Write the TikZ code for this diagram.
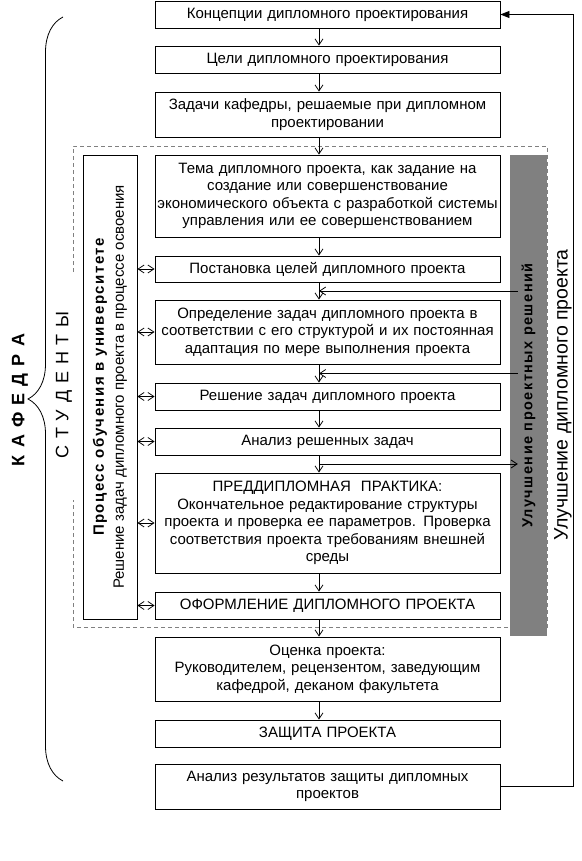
\documentclass[tikz,border=0pt]{standalone}
\usepackage{fontspec}
\setmainfont{Liberation Sans}
\usetikzlibrary{arrows.meta,calc,decorations.pathreplacing}
\tikzset{
  blk/.style={draw,line width=0.8pt,minimum width=345pt,text width=345pt,align=center,inner sep=0pt,font=\fontsize{15}{17.5}\selectfont},
  arr/.style={line width=0.8pt,-{Straight Barb[length=6pt,width=8pt]}},
  darr/.style={line width=0.8pt,{Straight Barb[length=6pt,width=8pt]}-{Straight Barb[length=6pt,width=8pt]}},
}
\begin{document}
\begin{tikzpicture}[x=1pt,y=-1pt]
\useasboundingbox (0,0) rectangle (581,861);
\draw[dashed,gray,line width=0.8pt,dash pattern=on 4pt off 3pt] (73,272) |- (547,146) |- (73,627) -- (73,500);
\node[blk,minimum height=27] (konc) at (327.5,14.5) {Концепции дипломного проектирования};
\node[blk,minimum height=27] (celi) at (327.5,59.5) {Цели дипломного проектирования};
\node[blk,minimum height=45] (zad) at (327.5,114.5) {Задачи кафедры, решаемые при дипломном\\проектировании};
\node[blk,minimum height=82] (tema) at (327.5,196) {Тема дипломного проекта, как задание на\\создание или совершенствование\\экономического объекта с разработкой системы\\управления или ее совершенствованием};
\node[blk,minimum height=26] (postan) at (327.5,269) {Постановка целей дипломного проекта};
\node[blk,minimum height=64] (opred) at (327.5,332) {Определение задач дипломного проекта в\\соответствии с его структурой и их постоянная\\адаптация по мере выполнения проекта};
\node[blk,minimum height=27] (resh) at (327.5,396.5) {Решение задач дипломного проекта};
\node[blk,minimum height=27] (analiz) at (327.5,441.5) {Анализ решенных задач};
\node[blk,minimum height=100] (predd) at (327.5,523) {ПРЕДДИПЛОМНАЯ\ \ ПРАКТИКА:\\Окончательное редактирование структуры\\проекта и проверка ее параметров. Проверка\\соответствия проекта требованиям внешней\\среды};
\node[blk,minimum height=27] (oform) at (327.5,605.5) {ОФОРМЛЕНИЕ ДИПЛОМНОГО ПРОЕКТА};
\node[blk,minimum height=64] (ocenka) at (327.5,669) {Оценка проекта:\\Руководителем, рецензентом, заведующим\\кафедрой, деканом факультета};
\node[blk,minimum height=27] (zasch) at (327.5,733.5) {ЗАЩИТА ПРОЕКТА};
\node[blk,minimum height=45] (anrez) at (327.5,786.5) {Анализ результатов защиты дипломных\\проектов};
\node[draw,line width=0.8pt,rotate=90,minimum width=464,minimum height=54,inner sep=1pt,align=center,font=\fontsize{15}{20}\selectfont] (proc) at (110,387) {{\bfseries\addfontfeature{LetterSpace=10}Процесс обучения в университете}\\Решение задач дипломного проекта в процессе освоения};
\node[fill=gray,rotate=90,minimum width=481,minimum height=37,font=\bfseries\fontsize{14.5}{16}\selectfont\addfontfeature{LetterSpace=10}] (bar) at (528.5,395.5) {Улучшение проектных решений};
\node[rotate=90,font=\fontsize{19.5}{22}\selectfont] (uluch) at (563,395) {Улучшение дипломного проекта};
\node[rotate=90,font=\bfseries\fontsize{18}{20}\selectfont\addfontfeature{LetterSpace=12}] (kaf) at (20,400) {К А Ф Е Д Р А};
\node[rotate=90,font=\fontsize{18}{20}\selectfont\addfontfeature{LetterSpace=10}] (stud) at (64,385) {С Т У Д Е Н Т Ы};
\draw[decorate,decoration={brace,amplitude=35pt},line width=0.8pt] (63,781) -- (63,17);
\foreach \a/\b in {konc/celi,celi/zad,zad/tema,tema/postan,postan/opred,opred/resh,resh/analiz,analiz/predd,predd/oform,oform/ocenka,ocenka/zasch}
  \draw[arr] ([xshift=-8.5pt]\a.south) -- ([xshift=-8.5pt]\b.north);
\foreach \b in {postan,opred,resh,analiz,predd,oform}
  \draw[darr] (proc.south |- \b.west) -- (\b.west);
\path ($(postan.south)!.5!(opred.north)$) ++(-8.5,0) coordinate (m1);
\path ($(opred.south)!.5!(resh.north)$) ++(-8.5,0) coordinate (m2);
\path ($(analiz.south)!.5!(predd.north)$) ++(-8.5,0) coordinate (m3);
\draw[arr] ([xshift=8pt]bar.north |- m1) -- (m1);
\draw[arr] ([xshift=8pt]bar.north |- m2) -- (m2);
\draw[arr] (m3) -- ([xshift=8pt]bar.north |- m3);
\coordinate (fbc) at (573,0);
\draw[line width=0.8pt,-{Triangle[length=9pt,width=7pt]}] (anrez.east) -- (anrez.east -| fbc) -- (konc.east -| fbc) -- (konc.east);
\end{tikzpicture}
\end{document}
